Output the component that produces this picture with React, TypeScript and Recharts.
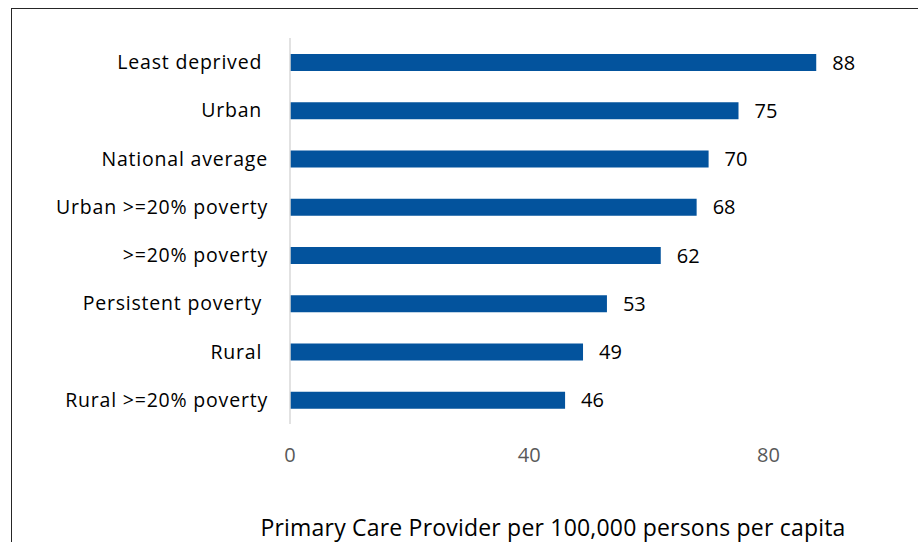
import { BarChart, Bar, XAxis, YAxis, LabelList } from 'recharts';

const categories = [
  'Least deprived\u00a0',
  'Urban\u00a0',
  'National average',
  'Urban >=20% poverty',
  '>=20% poverty',
  'Persistent poverty\u00a0',
  'Rural\u00a0',
  'Rural >=20% poverty',
];
const providers = [88, 75, 70, 68, 62, 53, 49, 46];
const xTicks = [0, 40, 80];
const axisTitle = 'Primary Care Provider per 100,000 persons per capita';

const FONT = '"Open Sans", sans-serif';
const BAR_COLOR = '#03539d';

export default function App() {
  const chartData = categories.map((name, i) => ({ name, value: providers[i] }));

  return (
    <div
      style={{
        position: 'absolute',
        left: 0,
        top: 0,
        width: 918,
        height: 542,
        overflow: 'hidden',
        background: '#fff',
        fontFamily: FONT,
      }}
    >
      <div
        style={{
          position: 'absolute',
          left: 11,
          top: 8,
          width: 940,
          height: 580,
          border: '1.5px solid #262626',
        }}
      />
      <BarChart
        width={918}
        height={542}
        data={chartData}
        layout="vertical"
        margin={{ top: 38, right: 30, bottom: 0, left: 0 }}
        style={{ position: 'absolute', left: 0, top: 0 }}
      >
        <XAxis
          type="number"
          domain={[0, 100]}
          ticks={xTicks}
          axisLine={false}
          tickLine={false}
          tickSize={0}
          tickMargin={24}
          height={118}
          tick={{ fill: '#595959', fontSize: 20, fontFamily: FONT }}
          label={{
            value: axisTitle,
            position: 'insideBottom',
            offset: 6,
            dx: -36,
            fill: '#000',
            fontSize: 23,
            letterSpacing: 0.2,
            fontFamily: FONT,
          }}
        />
        <YAxis
          type="category"
          dataKey="name"
          width={290}
          tickLine={false}
          tickSize={0}
          tickMargin={22}
          axisLine={{ stroke: '#d9d9d9', strokeWidth: 1.5 }}
          tick={{ fill: '#000', fontSize: 19.5, fontFamily: FONT, letterSpacing: 0.8 }}
          interval={0}
        />
        <Bar dataKey="value" fill={BAR_COLOR} barSize={17} isAnimationActive={false}>
          <LabelList
            dataKey="value"
            position="right"
            offset={16}
            fill="#000"
            fontSize={20}
            fontFamily={FONT}
          />
        </Bar>
      </BarChart>
    </div>
  );
}
